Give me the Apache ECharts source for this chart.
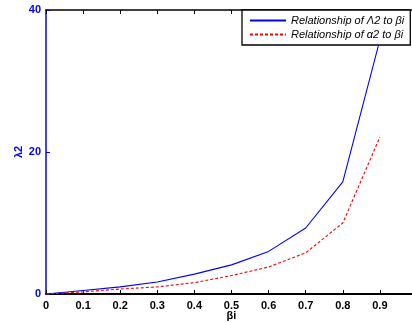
<!DOCTYPE html>
<html>
<head>
<meta charset="utf-8">
<script src="https://cdn.jsdelivr.net/npm/echarts@6/dist/echarts.min.js"></script>
<style>html,body{margin:0;padding:0;background:#fff;}#c{width:412px;height:323px;}</style>
</head>
<body>
<div id="c"></div>
<script>
const betaI = [0, 0.1, 0.2, 0.3, 0.4, 0.5, 0.6, 0.7, 0.8, 0.9];
const lambda2 = [0, 0.5, 1.0, 1.7, 2.8, 4.1, 6.0, 9.3, 15.8, 35.8];
const alpha2 = [0, 0.3, 0.7, 1.0, 1.6, 2.6, 3.8, 5.8, 10.0, 22.1];
const seriesNames = ['Relationship of \u039B2 to \u03B2i', 'Relationship of \u03B12 to \u03B2i'];
const xName = '\u03B2i';
const yName = '\u03BB2';

const chart = echarts.init(document.getElementById('c'));
const font = 'Liberation Sans, Arial, sans-serif';
chart.setOption({
  animation: false,
  grid: { left: 46, top: 10, bottom: 29, right: -5, outerBoundsMode: 'none', containLabel: false },
  legend: {
    orient: 'vertical', left: 242, top: 10,
    backgroundColor: '#fff', borderColor: '#000', borderWidth: 1.3,
    padding: [5, 6, 5, 7], itemGap: 3, itemWidth: 36, itemHeight: 10,
    itemStyle: { opacity: 0 },
    textStyle: { fontFamily: font, fontSize: 11, fontStyle: 'italic', color: '#000' },
    data: seriesNames
  },
  xAxis: [{
    type: 'value', min: 0, max: 1, interval: 0.1, position: 'bottom',
    name: xName, nameLocation: 'middle', nameGap: 16, nameMoveOverlap: false,
    nameTextStyle: { fontFamily: font, fontSize: 11, fontWeight: 'bold', color: '#000' },
    axisLine: { lineStyle: { color: '#000', width: 2 } },
    axisTick: { inside: true, length: 4, lineStyle: { color: '#000' } },
    axisLabel: { fontFamily: font, fontSize: 11, fontWeight: 'bold', color: '#000', margin: 6,
      formatter: v => v === 0 ? '0' : (v > 0.95 ? '' : v.toFixed(1)) },
    splitLine: { show: false }
  }, {
    type: 'value', min: 0, max: 1, interval: 0.1, position: 'top',
    axisLine: { lineStyle: { color: '#000', width: 1.5 } },
    axisTick: { inside: true, length: 4, lineStyle: { color: '#000' } },
    axisLabel: { show: false }, splitLine: { show: false }
  }],
  yAxis: {
    type: 'value', min: 0, max: 40, interval: 20,
    name: yName, nameLocation: 'middle', nameGap: 22, nameRotate: 90, nameMoveOverlap: false,
    nameTextStyle: { fontFamily: font, fontSize: 11, fontWeight: 'bold', color: '#0000ff' },
    axisLine: { show: true, lineStyle: { color: '#0000ff', width: 1.5 } },
    axisTick: { show: true, inside: true, length: 4, lineStyle: { color: '#0000ff' } },
    axisLabel: { fontFamily: font, fontSize: 11, fontWeight: 'bold', color: '#0000ff', margin: 5 },
    splitLine: { show: false }
  },
  series: [{
    name: seriesNames[0], type: 'line', symbol: 'none',
    data: betaI.map((x, i) => [x, lambda2[i]]),
    lineStyle: { color: '#0000ff', width: 1.1 }, itemStyle: { color: '#0000ff' }
  }, {
    name: seriesNames[1], type: 'line', symbol: 'none',
    data: betaI.map((x, i) => [x, alpha2[i]]),
    lineStyle: { color: '#ff0000', width: 1.1, type: [3, 2] }, itemStyle: { color: '#ff0000' }
  }]
});
</script>
</body>
</html>
